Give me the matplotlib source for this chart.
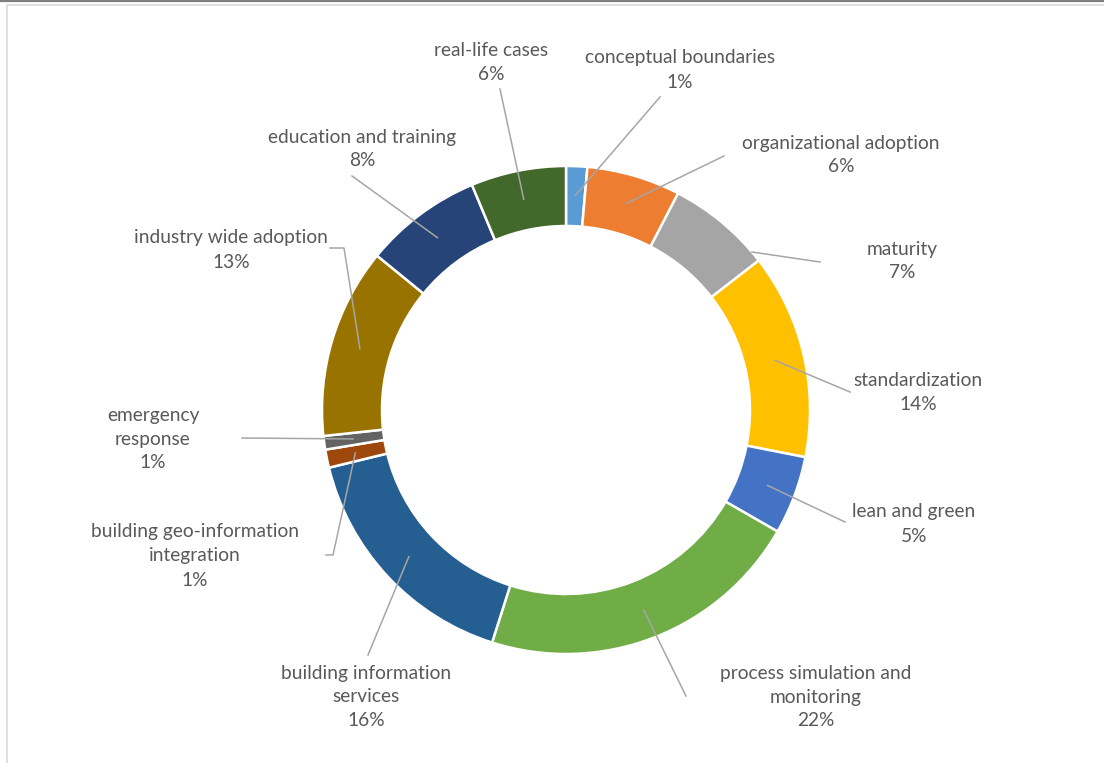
import numpy as np
import matplotlib.pyplot as plt
from matplotlib.patches import Rectangle
from matplotlib.lines import Line2D

# Data (share of papers per topic, %)
topics = ['conceptual boundaries', 'organizational adoption', 'maturity',
          'standardization', 'lean and green', 'process simulation and monitoring',
          'building information services', 'building geo-information integration',
          'emergency response', 'industry wide adoption', 'education and training',
          'real-life cases']
shares = [1.4, 6.2, 6.9, 13.6, 5.2, 21.6, 16.3, 1.2, 0.9, 12.6, 7.8, 6.3]
colors = ['#5B9BD5', '#ED7D31', '#A5A5A5', '#FFC000', '#4472C4', '#70AD47',
          '#255E91', '#9E480E', '#636363', '#997300', '#264478', '#43682B']

# label text lines (name split as in the chart)
label_lines = [['conceptual boundaries'], ['organizational adoption'], ['maturity'],
               ['standardization'], ['lean and green'],
               ['process simulation and', 'monitoring'],
               ['building information', 'services'],
               ['building geo-information', 'integration'],
               ['emergency', 'response'], ['industry wide adoption'],
               ['education and training'], ['real-life cases']]

# Layout in pixels (top-left origin): label centre, leader path after anchor
W, H = 1104, 763
cx, cy, R, ring = 566, 410, 244, 60
label_pos = [(680, 70), (841, 155), (902, 261), (918, 392), (914, 524),
             (816, 697), (366, 697), (195, 556), (153, 439), (231, 250),
             (362, 149), (491, 63)]
leader_pts = [[(660, 97)], [(724, 156)], [(820, 262)], [(850, 392)],
              [(845, 522)], [(686, 696)], [(368, 655)], [(333, 555), (326, 555)],
              [(242, 438)], [(344, 248), (330, 248)], [(352, 176)], [(500, 89)]]
anchor_override = {2: (752, 252)}

fig = plt.figure(figsize=(W / 100, H / 100), dpi=100)
ax = fig.add_axes([0, 0, 1, 1])

def py(y):
    return H - y

wedges, _ = ax.pie(shares, colors=colors, startangle=90, counterclock=False,
                   center=(cx, py(cy)), radius=R,
                   wedgeprops=dict(width=ring, edgecolor='white', linewidth=1.8))
ax.set_xlim(0, W)
ax.set_ylim(0, H)
ax.set_aspect('equal')
ax.axis('off')

total = sum(shares)
cum = np.cumsum([0] + shares)
txt_col = '#595959'
for i, name in enumerate(topics):
    mid = (cum[i] + cum[i + 1]) / 2 / total * 2 * np.pi
    if i in anchor_override:
        ax0, ay0 = anchor_override[i]
    else:
        ax0 = cx + 215 * np.sin(mid)
        ay0 = cy - 215 * np.cos(mid)
    xs = [ax0] + [p[0] for p in leader_pts[i]]
    ys = [py(ay0)] + [py(p[1]) for p in leader_pts[i]]
    ax.plot(xs, ys, color='#A6A6A6', lw=1.1, zorder=5)
    text = '\n'.join(label_lines[i] + [f'{shares[i] / total * 100:.0f}%'])
    lx, ly = label_pos[i]
    ax.text(lx, py(ly), text, ha='center', va='center', fontsize=13.8,
            color=txt_col, family='Lato', linespacing=1.5)

# chart frame
fig.add_artist(Line2D([0, 1], [1 - 0.8 / H, 1 - 0.8 / H], color='#808080', lw=1.6))
fig.add_artist(Rectangle((7 / W, -0.01), 1.0, 1 - 4.5 / H + 0.01,
                         fill=False, edgecolor='#D9D9D9', lw=1.2))

fig.savefig('out.png', dpi=100)
